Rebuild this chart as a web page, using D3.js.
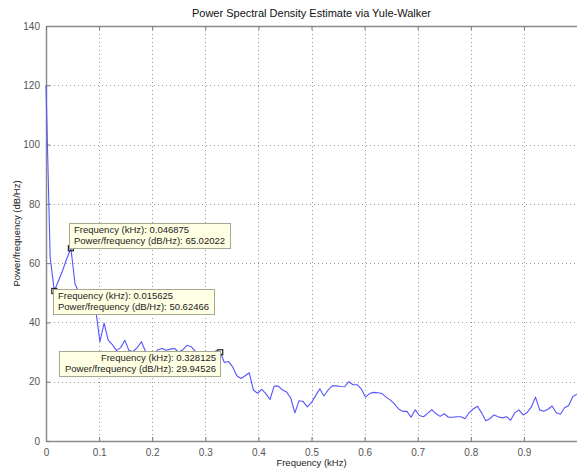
<!DOCTYPE html>
<html>
<head>
<meta charset="utf-8">
<script src="https://cdn.jsdelivr.net/npm/d3@7/dist/d3.min.js"></script>
<style>
  html, body { margin: 0; padding: 0; background: #fff; }
  svg { display: block; font-family: "Liberation Sans", Arial, sans-serif; }
</style>
</head>
<body>
<svg id="chart" width="577" height="468"></svg>
<script>
// Yule-Walker PSD estimate, 129 bins from 0 to 1 kHz (step 1/128 kHz)
const freqStep = 1 / 128;
const psd = [
  120, 62, 50.62466, 54, 57.5, 61.5, 65.02022, 53, 50, 48.5,
  47, 45, 44, 33.5, 39.8, 34, 32.5, 30.5, 31.5, 34,
  30.5, 30.2, 31.5, 33.5, 30.2, 30.0, 29.5, 30.8, 31.2, 30.6,
  31.0, 31.2, 30.0, 30.8, 32.3, 31.8, 30.2, 29.0, 28.5, 30.0,
  29.5, 30.5, 29.94526, 26.5, 26.8, 25.0, 22.0, 21.1, 22.0, 23.0,
  17.2, 16.1, 17.4, 16.0, 14.0, 18.5, 18.5, 17.2, 16.5, 14.5,
  9.5, 13.6, 13.3, 11.5, 13.0, 15.3, 17.6, 15.2, 17.2, 18.6,
  18.6, 18.4, 18.3, 20.0, 19.0, 19.0, 17.6, 14.8, 16.0, 16.4,
  16.3, 16.0, 14.8, 13.8, 12.5, 10.8, 10.0, 10.0, 8.0, 10.5,
  8.6, 8.2, 9.3, 10.6, 9.2, 8.3, 9.2, 8.0, 8.0, 8.2,
  8.2, 7.5, 9.6, 10.8, 11.7, 9.5, 6.8, 7.5, 8.8, 8.2,
  7.8, 8.2, 7.0, 9.5, 10.5, 8.8, 9.6, 11.5, 14.8, 10.5,
  10.0, 10.7, 11.8, 9.5, 9.0, 11.2, 12.0, 15.0, 15.8
];
const freqs = psd.map((_, i) => i * freqStep);

const xTicks = [0, 0.1, 0.2, 0.3, 0.4, 0.5, 0.6, 0.7, 0.8, 0.9];
const yTicks = [0, 20, 40, 60, 80, 100, 120, 140];

// Data tips: bin index, and which corner of the box sits on the point
const tipIndex = [6, 2, 42];
const tipAnchor = ["bottom-left", "top-left", "top-right"];

const titleText = "Power Spectral Density Estimate via Yule-Walker";
const xLabelText = "Frequency (kHz)";
const yLabelText = "Power/frequency (dB/Hz)";

const svg = d3.select("#chart");
const m = { left: 46, top: 26, right: 577, bottom: 441 };

const x = d3.scaleLinear().domain([0, 1]).range([m.left, m.right]);
const y = d3.scaleLinear().domain([0, 140]).range([m.bottom, m.top]);

// grid
const grid = svg.append("g").attr("stroke", "#9a9a9a").attr("stroke-width", 1)
  .attr("stroke-dasharray", "1,3");
grid.selectAll("line.vx").data(xTicks.filter(d => d > 0)).join("line")
  .attr("x1", d => Math.round(x(d)) + 0.5).attr("x2", d => Math.round(x(d)) + 0.5)
  .attr("y1", m.top).attr("y2", m.bottom);
grid.selectAll("line.hy").data(yTicks.filter(d => d > 0 && d < 140)).join("line")
  .attr("x1", m.left).attr("x2", m.right)
  .attr("y1", d => Math.round(y(d)) + 0.5).attr("y2", d => Math.round(y(d)) + 0.5);

// axes (ticks pointing inward)
const xAxis = d3.axisBottom(x).tickValues(xTicks).tickSizeInner(-4).tickSizeOuter(0)
  .tickPadding(8).tickFormat(d3.format("~g"));
const yAxis = d3.axisLeft(y).tickValues(yTicks).tickSizeInner(-4).tickSizeOuter(0)
  .tickPadding(6).tickFormat(d3.format("d"));
const xTop = d3.axisTop(x).tickValues(xTicks).tickSizeInner(-4).tickSizeOuter(0).tickFormat("");

function styleAxis(g) {
  g.select(".domain").attr("stroke", "#8c8c8c").attr("stroke-width", 1.5);
  g.selectAll(".tick line").attr("stroke", "#777");
  g.selectAll(".tick text").attr("fill", "#555").style("font-size", "10px")
    .style("font-family", "Liberation Sans, Arial, sans-serif");
}
svg.append("g").attr("transform", `translate(0,${m.bottom})`).call(xAxis).call(styleAxis);
svg.append("g").attr("transform", `translate(${m.left},0)`).call(yAxis).call(styleAxis);
svg.append("g").attr("transform", `translate(0,${m.top})`).call(xTop).call(styleAxis);

// spectrum line
const line = d3.line().x((d, i) => x(freqs[i])).y(d => y(d));
svg.append("path").datum(psd)
  .attr("d", line)
  .attr("fill", "none")
  .attr("stroke", "#5555ff")
  .attr("stroke-width", 1.1)
  .attr("stroke-linejoin", "round");

// data tips: marker square, then the label box over it
const fmtF = d3.format(".6f");
const fmtP = d3.format(".5f");
tipIndex.forEach((idx, k) => {
  const px = x(freqs[idx]), py = y(psd[idx]);
  const anchor = tipAnchor[k];
  svg.append("rect").attr("x", px - 2.5).attr("y", py - 2.5).attr("width", 5).attr("height", 5)
    .attr("fill", "none").attr("stroke", "#222").attr("stroke-width", 1.2);
  const g = svg.append("g");
  const lines = [
    "Frequency (kHz): " + (+fmtF(freqs[idx])).toString(),
    "Power/frequency (dB/Hz): " + fmtP(psd[idx])
  ];
  const rect = g.append("rect").attr("fill", "#ffffe4").attr("stroke", "#a8a890").attr("stroke-width", 1);
  const texts = g.selectAll("text").data(lines).join("text")
    .text(d => d).attr("fill", "#222").style("font-size", "9.5px");
  const w = Math.max(...texts.nodes().map(n => n.getComputedTextLength())) + 10;
  const h = 25;
  let bx, by;
  if (anchor === "bottom-left") { bx = px - 2; by = py - h; }
  else if (anchor === "top-left") { bx = px - 1; by = py - 2; }
  else { bx = px - w; by = py - 1; }
  rect.attr("x", Math.round(bx) + 0.5).attr("y", Math.round(by) + 0.5)
    .attr("width", Math.round(w)).attr("height", h);
  const right = anchor === "top-right";
  texts.attr("x", right ? Math.round(bx) + Math.round(w) - 4 : Math.round(bx) + 5)
    .attr("text-anchor", right ? "end" : "start")
    .attr("y", (d, i) => Math.round(by) + 10 + i * 11);
});

// title and labels
svg.append("text").attr("x", (m.left + m.right) / 2).attr("y", 17)
  .attr("text-anchor", "middle").attr("fill", "#111").style("font-size", "11px").text(titleText);
svg.append("text").attr("x", (m.left + m.right) / 2).attr("y", 466)
  .attr("text-anchor", "middle").attr("fill", "#222").style("font-size", "9.5px").text(xLabelText);
svg.append("text").attr("transform", `translate(20,${(m.top + m.bottom) / 2}) rotate(-90)`)
  .attr("text-anchor", "middle").attr("fill", "#222").style("font-size", "9.5px").text(yLabelText);
</script>
</body>
</html>
